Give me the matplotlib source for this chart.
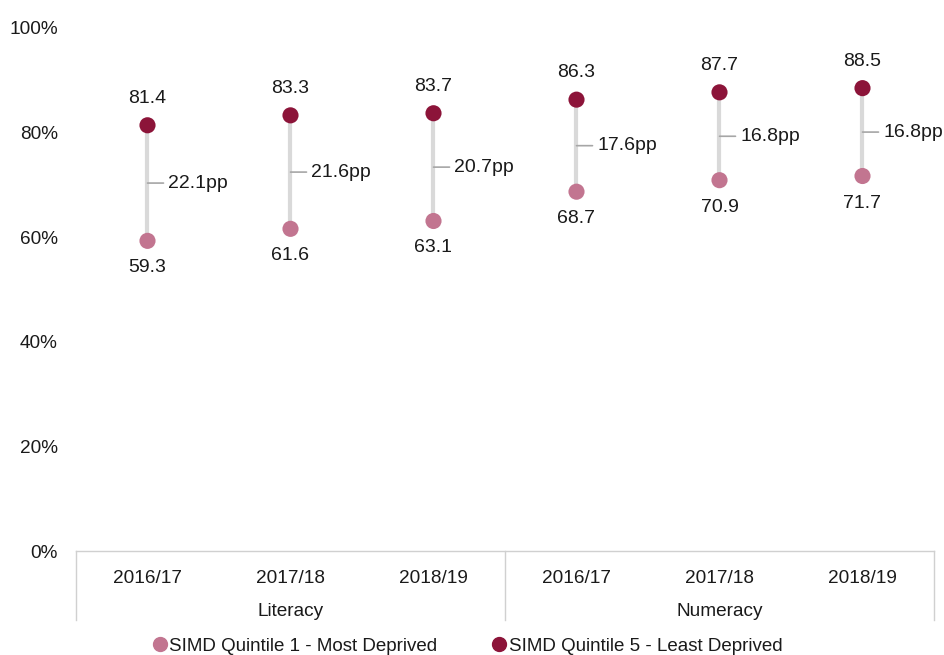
import matplotlib
matplotlib.use("Agg")
import matplotlib.pyplot as plt
from matplotlib.lines import Line2D

plt.rcParams['font.family'] = ['Liberation Sans', 'DejaVu Sans']

years = ["2016/17", "2017/18", "2018/19", "2016/17", "2017/18", "2018/19"]
groups = ["Literacy", "Numeracy"]
q1 = [59.3, 61.6, 63.1, 68.7, 70.9, 71.7]
q5 = [81.4, 83.3, 83.7, 86.3, 87.7, 88.5]
gaps = ["22.1pp", "21.6pp", "20.7pp", "17.6pp", "16.8pp", "16.8pp"]
yticks = [0, 20, 40, 60, 80, 100]

c_q1 = "#C27590"
c_q5 = "#8C1439"
c_line = "#D9D9D9"
c_box = "#D0D0D0"
tc = '#1a1a1a'

W, H = 945, 655
fig = plt.figure(figsize=(W / 100, H / 100), dpi=100)
ax = fig.add_axes([76 / W, 1 - 551 / H, (934 - 76) / W, (551 - 28) / H])
ax.set_xlim(-0.5, 5.5)
ax.set_ylim(0, 100)

x = list(range(len(years)))
for i in x:
    ax.plot([i, i], [q1[i], q5[i]], color=c_line, lw=3, zorder=1, solid_capstyle='butt')
    mid = (q1[i] + q5[i]) / 2
    ax.annotate("", (i, mid), xytext=(16, 0), textcoords='offset pixels',
                arrowprops=dict(arrowstyle='-', color="#A6A6A6", lw=1.2,
                                shrinkA=0, shrinkB=0))
    ax.annotate(gaps[i], (i, mid), xytext=(21, 0), textcoords='offset pixels',
                ha='left', va='center', fontsize=14, color=tc)
    ax.annotate(f"{q5[i]:.1f}", (i, q5[i]), xytext=(0, 27), textcoords='offset pixels',
                ha='center', va='center', fontsize=14, color=tc)
    ax.annotate(f"{q1[i]:.1f}", (i, q1[i]), xytext=(0, -27), textcoords='offset pixels',
                ha='center', va='center', fontsize=14, color=tc)

ax.scatter(x, q1, s=135, color=c_q1, zorder=3, edgecolors='none')
ax.scatter(x, q5, s=135, color=c_q5, zorder=3, edgecolors='none')

for s in ['top', 'right', 'left']:
    ax.spines[s].set_visible(False)
ax.spines['bottom'].set_color(c_box)
ax.spines['bottom'].set_linewidth(1)
ax.set_yticks(yticks)
ax.set_yticklabels([f"{v}%" for v in yticks], fontsize=13.7, color=tc)
ax.tick_params(axis='y', length=0, pad=13)
ax.set_xticks(x)
ax.set_xticklabels(years, fontsize=13.7, color=tc)
ax.tick_params(axis='x', length=0, pad=14)

# category box lines
trans = ax.get_xaxis_transform()
box_bottom = -(620 - 551) / (551 - 28)
for xv in [-0.5, 2.5, 5.5]:
    ax.plot([xv, xv], [0, box_bottom], transform=trans, color=c_box, lw=1, clip_on=False)
for gi, g in enumerate(groups):
    ax.text(1 + 3 * gi, -(611 - 551) / (551 - 28), g, transform=trans,
            ha='center', va='center', fontsize=13.7, color=tc)

handles = [Line2D([], [], marker='o', ls='none', color=c_q1, markersize=10),
           Line2D([], [], marker='o', ls='none', color=c_q5, markersize=10)]
fig.legend(handles, ["SIMD Quintile 1 - Most Deprived", "SIMD Quintile 5 - Least Deprived"],
           loc='center', bbox_to_anchor=(0.5 - 6 / W, 1 - 646 / H), ncol=2, frameon=False,
           fontsize=13.5, handletextpad=0.0, columnspacing=2.8, handlelength=1.0,
           labelcolor=tc)

fig.savefig("out.png", dpi=100)
